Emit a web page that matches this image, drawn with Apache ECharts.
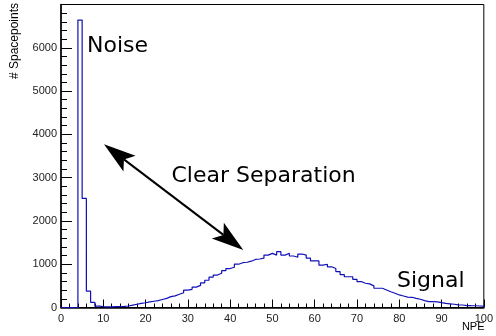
<!DOCTYPE html>
<html>
<head>
<meta charset="utf-8">
<script src="https://cdn.jsdelivr.net/npm/echarts@6/dist/echarts.min.js"></script>
<style>
html,body{margin:0;padding:0;background:#fff;}
#c{width:496px;height:336px;}
</style>
</head>
<body>
<div id="c"></div>
<script>
// Histogram: 100 bins of width 1 from 0 to 100 (NPE)
const binStart = 0;
const binWidth = 1;
const counts = [
  0, 0, 0, 0, 6640, 2520, 380, 120, 30, 20,
  15, 15, 18, 20, 25, 35, 55, 75, 95, 110,
  130, 145, 160, 185, 210, 250, 270, 305, 340, 400,
  420, 470, 510, 570, 630, 700, 750, 790, 850, 900,
  930, 1000, 1035, 1045, 1070, 1110, 1120, 1140, 1210, 1250,
  1210, 1290, 1210, 1255, 1190, 1160, 1235, 1210, 1140, 1075,
  1075, 980, 1000, 940, 900, 830, 760, 710, 710, 650,
  600, 560, 545, 500, 445, 445, 405, 365, 330, 290,
  265, 240, 236, 212, 190, 160, 135, 134, 130, 111,
  97, 85, 75, 60, 58, 45, 42, 40, 35, 30
];
const xTickLabels = ['0','10','20','30','40','50','60','70','80','90','100'];
const yTickLabels = ['0','1000','2000','3000','4000','5000','6000'];
const xTitle = 'NPE';
const yTitle = '# Spacepoints';
const annotations = ['Noise', 'Clear Separation', 'Signal'];

// build step outline from the bin contents
const stepData = [[binStart, 0]];
counts.forEach((v, i) => {
  stepData.push([binStart + i * binWidth, v]);
  stepData.push([binStart + (i + 1) * binWidth, v]);
});
stepData.push([binStart + counts.length * binWidth, 0]);

function head(tip, dir) {
  const L = 32, W = 10, N = 25;
  const px = -dir[1], py = dir[0];
  return [
    [tip[0], tip[1]],
    [tip[0] + L * dir[0] + W * px, tip[1] + L * dir[1] + W * py],
    [tip[0] + N * dir[0], tip[1] + N * dir[1]],
    [tip[0] + L * dir[0] - W * px, tip[1] + L * dir[1] - W * py]
  ];
}
const T1 = [104, 144.3], T2 = [243.3, 250];
const dx = T2[0] - T1[0], dy = T2[1] - T1[1];
const len = Math.sqrt(dx * dx + dy * dy);
const u = [dx / len, dy / len];
const h1 = head(T1, u);
const h2 = head(T2, [-u[0], -u[1]]);

const labelFont = 'Liberation Sans';
const chart = echarts.init(document.getElementById('c'), null, {renderer: 'canvas'});
chart.setOption({
  animation: false,
  backgroundColor: '#fff',
  grid: {left: 61, right: 11.5, top: 4.5, bottom: 28.5, show: true, borderColor: '#000', borderWidth: 1, backgroundColor: 'transparent'},
  xAxis: {
    type: 'value', min: 0, max: 100, interval: 10,
    axisLine: {show: true, onZero: false, lineStyle: {color: '#000', width: 1.5}},
    axisTick: {show: true, inside: true, length: 8, lineStyle: {color: '#000', width: 1}},
    minorTick: {show: true, splitNumber: 5, length: 4, lineStyle: {color: '#000', width: 1}},
    splitLine: {show: false},
    axisLabel: {
      fontFamily: labelFont, fontSize: 11, color: '#222', margin: 6,
      formatter: (v) => xTickLabels[Math.round(v / 10)] ?? ''
    }
  },
  yAxis: {
    type: 'value', min: 0, max: 7000, interval: 1000,
    axisLine: {show: true, lineStyle: {color: '#000', width: 1.5}},
    axisTick: {show: true, inside: true, length: 11, lineStyle: {color: '#000', width: 1}},
    minorTick: {show: true, splitNumber: 5, length: 6, lineStyle: {color: '#000', width: 1}},
    splitLine: {show: false},
    axisLabel: {
      fontFamily: labelFont, fontSize: 11, color: '#222', margin: 4, showMaxLabel: false,
      formatter: (v) => yTickLabels[Math.round(v / 1000)] ?? ''
    }
  },
  series: [{
    type: 'line',
    data: stepData,
    showSymbol: false,
    symbol: 'none',
    lineStyle: {color: '#1010b8', width: 1.2},
    silent: true,
    z: 3
  }],
  graphic: [
    {type: 'text', x: 15, y: 3, rotation: Math.PI / 2,
      style: {text: yTitle, font: '12px "Liberation Sans"', fill: '#000', align: 'right', verticalAlign: 'middle'}},
    {type: 'text', x: 484.5, y: 327,
      style: {text: xTitle, font: '11px "Liberation Sans"', fill: '#000', align: 'right', verticalAlign: 'middle'}},
    {type: 'text', x: 87, y: 46,
      style: {text: annotations[0], font: '22px "DejaVu Sans"', fill: '#000', align: 'left', verticalAlign: 'middle'}},
    {type: 'text', x: 171.5, y: 176,
      style: {text: annotations[1], font: '22px "DejaVu Sans"', fill: '#000', align: 'left', verticalAlign: 'middle'}},
    {type: 'text', x: 397, y: 281,
      style: {text: annotations[2], font: '22px "DejaVu Sans"', fill: '#000', align: 'left', verticalAlign: 'middle'}},
    {type: 'line', shape: {x1: h1[2][0], y1: h1[2][1], x2: h2[2][0], y2: h2[2][1]},
      style: {stroke: '#000', lineWidth: 2}},
    {type: 'polygon', shape: {points: h1}, style: {fill: '#000'}},
    {type: 'polygon', shape: {points: h2}, style: {fill: '#000'}}
  ]
});
</script>
</body>
</html>
